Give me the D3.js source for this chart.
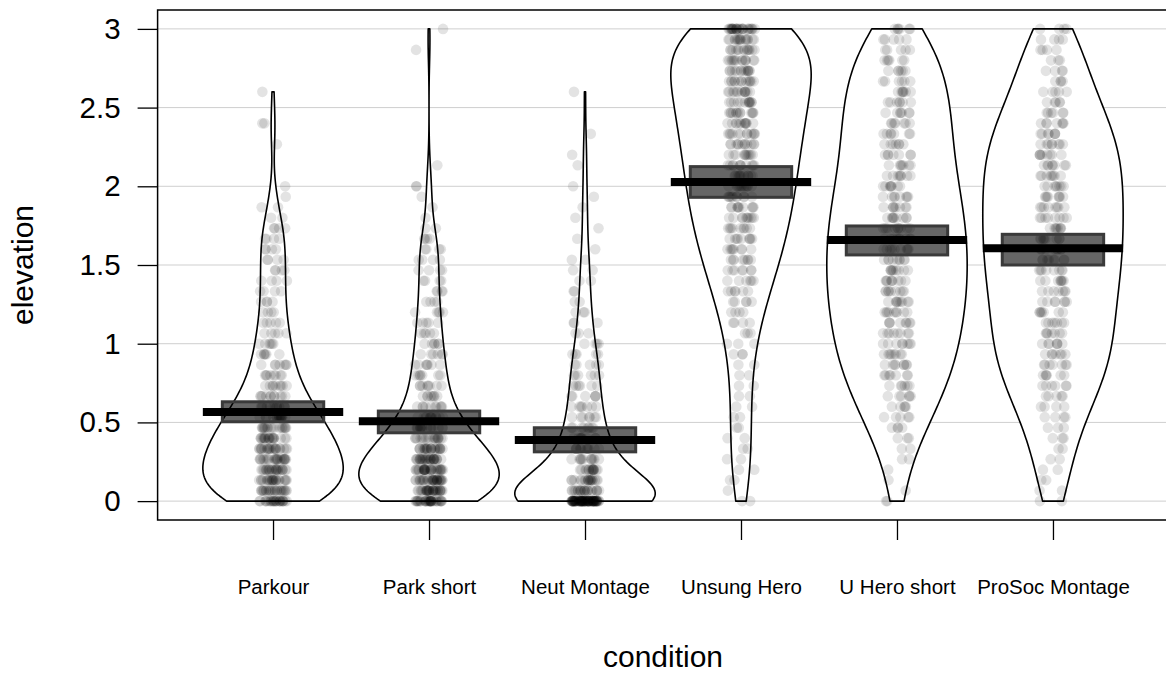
<!DOCTYPE html>
<html>
<head>
<meta charset="utf-8">
<script src="https://cdn.jsdelivr.net/npm/d3@7"></script>
<style>
  body { margin: 0; background: #fff; }
  svg { display: block; }
  text { font-family: "Liberation Sans", Arial, Helvetica, sans-serif; fill: #000; }
</style>
</head>
<body>
<svg id="chart" width="1166" height="676"></svg>
<script>
// ---- data ---------------------------------------------------------------
const conditions = ["Parkour", "Park short", "Neut Montage", "Unsung Hero", "U Hero short", "ProSoc Montage"];

// Ratings fall on a grid of 1/15 steps between 0 and 3;
// entry k of each array is the number of responses equal to k/15.
const levelStep = 1 / 15;
const parkourCounts     = [26,24,24,24,23,22,20,18,16,13,11,9,8,7,6,6,5,5,4,4,4,4,4,4,4,4,4,2,2,1,1,0,0,0,1,0,2,0,0,1];
const parkShortCounts   = [34,32,32,31,29,24,19,15,12,10,8,8,7,7,6,6,5,5,5,4,4,4,4,4,4,4,2,1,1,1,2,0,1,0,0,0,0,0,0,0,0,0,0,1,0,1];
const neutMontageCounts = [90,22,20,16,12,10,9,8,7,7,6,6,6,5,5,4,3,3,3,2,2,2,2,2,1,1,1,1,1,1,1,0,1,1,0,1,0,0,0,1];
const unsungHeroCounts  = [2,1,2,2,2,2,2,2,2,2,2,2,2,2,3,3,3,4,4,5,6,6,7,8,8,9,9,10,10,10,11,11,11,11,12,12,12,13,13,13,14,14,14,14,16,26];
const uHeroShortCounts  = [2,1,1,1,2,2,3,4,5,5,6,6,7,8,8,8,8,8,9,9,9,9,9,9,9,9,9,9,8,8,8,8,7,7,7,7,7,7,7,7,6,6,6,5,5,6];
const proSocCounts      = [2,2,2,2,2,2,3,3,4,4,5,6,6,7,7,7,7,7,7,7,7,8,8,8,8,8,8,8,8,8,8,8,8,8,8,7,7,6,5,5,4,4,3,4,4,4];

// Group means and the bounds of the interval band around each mean
const meanValues   = [0.566, 0.508, 0.388, 2.028, 1.659, 1.606];
const intervalLow  = [0.504, 0.434, 0.313, 1.930, 1.564, 1.500];
const intervalHigh = [0.631, 0.572, 0.466, 2.125, 1.748, 1.695];

const yTicks = [0, 0.5, 1, 1.5, 2, 2.5, 3];
const yTickLabels = ["0", "0.5", "1", "1.5", "2", "2.5", "3"];

const axisTitleX = "condition";
const axisTitleY = "elevation";

// ---- setup --------------------------------------------------------------
const countsByGroup = [parkourCounts, parkShortCounts, neutMontageCounts, unsungHeroCounts, uHeroShortCounts, proSocCounts];

const plotLeft = 157.6, plotRight = 1168.4, plotTop = 10, plotBottom = 520;

const svg = d3.select("#chart");

const x = d3.scalePoint()
  .domain(conditions)
  .range([plotLeft, plotRight])
  .padding(0.74);

const y = d3.scaleLinear()
  .domain([-0.12, 3.12])
  .range([plotBottom, plotTop]);

const beanHalf = 0.45 * x.step();     // widest point of each bean
const barHalf = 0.45 * x.step();      // mean line
const bandHalf = 0.325 * x.step();    // interval band
const jitterHalf = 0.09 * x.step();   // horizontal spread of raw points

// expand level counts into raw values
const groups = conditions.map((name, g) => {
  const values = [];
  countsByGroup[g].forEach((c, k) => { for (let i = 0; i < c; i++) values.push(k * levelStep); });
  return { name, g, values };
});

// Silverman's rule of thumb (bw.nrd0)
function bandwidth(values) {
  const s = values.slice().sort(d3.ascending);
  const sd = d3.deviation(s);
  const iqr = d3.quantileSorted(s, 0.75) - d3.quantileSorted(s, 0.25);
  let lo = Math.min(sd, iqr / 1.34);
  if (!lo) lo = sd || Math.abs(s[0]) || 1;
  return 0.9 * lo * Math.pow(s.length, -0.2);
}

// Gaussian kernel density, cut at the data range, scaled to a max of 1
function densityCurve(values) {
  const h = bandwidth(values);
  const lo = d3.min(values), hi = d3.max(values);
  const nPts = 240;
  const pts = d3.range(nPts + 1).map(i => {
    const v = lo + (hi - lo) * i / nPts;
    let s = 0;
    for (const xi of values) { const u = (v - xi) / h; s += Math.exp(-0.5 * u * u); }
    return { v, d: s };
  });
  const m = d3.max(pts, p => p.d);
  pts.forEach(p => p.w = p.d / m);
  return pts;
}

// deterministic scatter in [0, 1) used to spread points sideways
function spread(i, g) {
  const s = Math.sin((i + 1) * 12.9898 + (g + 1) * 78.233) * 43758.5453;
  return s - Math.floor(s);
}

// ---- grid ---------------------------------------------------------------
svg.append("g")
  .selectAll("line")
  .data(yTicks)
  .join("line")
  .attr("x1", plotLeft).attr("x2", plotRight)
  .attr("y1", d => y(d)).attr("y2", d => y(d))
  .attr("stroke", "#cfcfcf")
  .attr("stroke-width", 1);

// ---- beans --------------------------------------------------------------
const beanArea = d3.area()
  .y(p => y(p.v))
  .x0(p => -p.w * beanHalf)
  .x1(p => p.w * beanHalf);

const beanLayer = svg.append("g");
groups.forEach(gr => {
  beanLayer.append("path")
    .attr("transform", `translate(${x(gr.name)},0)`)
    .attr("d", beanArea(densityCurve(gr.values)))
    .attr("fill", "#fff")
    .attr("stroke", "#000")
    .attr("stroke-width", 1.6)
    .attr("stroke-linejoin", "round");
});

// ---- raw points ---------------------------------------------------------
const pointLayer = svg.append("g");
groups.forEach(gr => {
  pointLayer.selectAll(null)
    .data(gr.values)
    .join("circle")
    .attr("cx", (v, i) => x(gr.name) + (spread(i, gr.g) - 0.5) * 2 * jitterHalf)
    .attr("cy", v => y(v))
    .attr("r", 5.3)
    .attr("fill", "#000")
    .attr("fill-opacity", 0.11);
});

// ---- interval bands and means --------------------------------------------
const infLayer = svg.append("g");
infLayer.selectAll("rect")
  .data(conditions)
  .join("rect")
  .attr("x", d => x(d) - bandHalf)
  .attr("width", 2 * bandHalf)
  .attr("y", (d, i) => y(intervalHigh[i]))
  .attr("height", (d, i) => y(intervalLow[i]) - y(intervalHigh[i]))
  .attr("fill", "#000")
  .attr("fill-opacity", 0.6)
  .attr("stroke", "#3a3a3a")
  .attr("stroke-width", 3);

infLayer.selectAll("line")
  .data(conditions)
  .join("line")
  .attr("x1", d => x(d) - barHalf)
  .attr("x2", d => x(d) + barHalf)
  .attr("y1", (d, i) => y(meanValues[i]))
  .attr("y2", (d, i) => y(meanValues[i]))
  .attr("stroke", "#000")
  .attr("stroke-width", 8);

// ---- axes ---------------------------------------------------------------
svg.append("rect")
  .attr("x", plotLeft).attr("y", plotTop)
  .attr("width", plotRight - plotLeft).attr("height", plotBottom - plotTop)
  .attr("fill", "none").attr("stroke", "#000").attr("stroke-width", 1.5);

const yAxis = svg.append("g")
  .attr("transform", `translate(${plotLeft},0)`)
  .call(d3.axisLeft(y).tickValues(yTicks).tickFormat((d, i) => yTickLabels[i]).tickSize(20).tickPadding(17));
yAxis.select(".domain").remove();
yAxis.selectAll("line").attr("stroke", "#000").attr("stroke-width", 1.3);
yAxis.selectAll("text").attr("font-size", 29.5).attr("font-family", null).attr("fill", "#000");

const xAxis = svg.append("g")
  .attr("transform", `translate(0,${plotBottom})`)
  .call(d3.axisBottom(x).tickSize(20).tickPadding(39));
xAxis.select(".domain").remove();
xAxis.selectAll("line").attr("stroke", "#000").attr("stroke-width", 1.3);
xAxis.selectAll("text").attr("font-size", 20.5).attr("font-family", null).attr("fill", "#000");

svg.append("text")
  .attr("x", (plotLeft + plotRight) / 2)
  .attr("y", 667)
  .attr("text-anchor", "middle")
  .attr("font-size", 30)
  .text(axisTitleX);

svg.append("text")
  .attr("transform", `translate(33,${(plotTop + plotBottom) / 2}) rotate(-90)`)
  .attr("text-anchor", "middle")
  .attr("font-size", 30)
  .text(axisTitleY);
</script>
</body>
</html>
